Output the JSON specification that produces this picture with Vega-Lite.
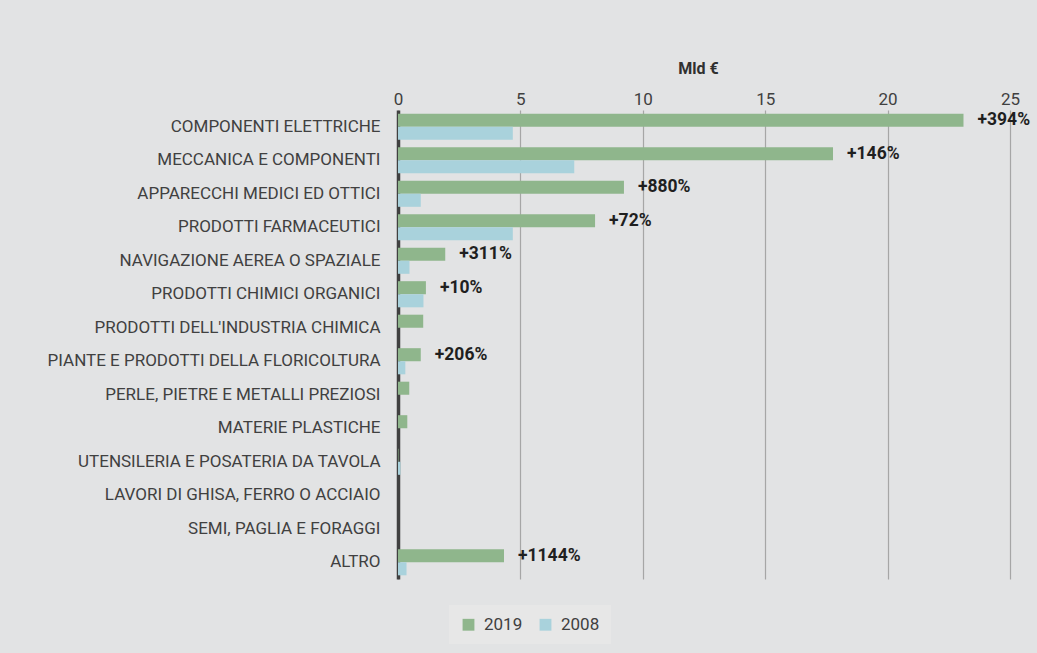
{
  "$schema": "https://vega.github.io/schema/vega-lite/v6.json",
  "width": 612,
  "height": 469,
  "autosize": {"type": "none"},
  "padding": {"left": 398, "top": 110, "right": 27, "bottom": 74},
  "background": "#e2e3e4",
  "config": {
    "view": {"stroke": null},
    "font": "Roboto",
    "axis": {"labelFont": "Roboto", "titleFont": "Roboto"}
  },
  "data": {
    "values": [
      {"cat": "COMPONENTI ELETTRICHE", "year": "2019", "value": 23.1, "label": "+394%"},
      {"cat": "COMPONENTI ELETTRICHE", "year": "2008", "value": 4.69, "label": ""},
      {"cat": "MECCANICA E COMPONENTI", "year": "2019", "value": 17.77, "label": "+146%"},
      {"cat": "MECCANICA E COMPONENTI", "year": "2008", "value": 7.2, "label": ""},
      {"cat": "APPARECCHI MEDICI ED OTTICI", "year": "2019", "value": 9.23, "label": "+880%"},
      {"cat": "APPARECCHI MEDICI ED OTTICI", "year": "2008", "value": 0.93, "label": ""},
      {"cat": "PRODOTTI FARMACEUTICI", "year": "2019", "value": 8.05, "label": "+72%"},
      {"cat": "PRODOTTI FARMACEUTICI", "year": "2008", "value": 4.69, "label": ""},
      {"cat": "NAVIGAZIONE AEREA O SPAZIALE", "year": "2019", "value": 1.93, "label": "+311%"},
      {"cat": "NAVIGAZIONE AEREA O SPAZIALE", "year": "2008", "value": 0.47, "label": ""},
      {"cat": "PRODOTTI CHIMICI ORGANICI", "year": "2019", "value": 1.14, "label": "+10%"},
      {"cat": "PRODOTTI CHIMICI ORGANICI", "year": "2008", "value": 1.04, "label": ""},
      {"cat": "PRODOTTI DELL'INDUSTRIA CHIMICA", "year": "2019", "value": 1.03, "label": ""},
      {"cat": "PRODOTTI DELL'INDUSTRIA CHIMICA", "year": "2008", "value": 0, "label": ""},
      {"cat": "PIANTE E PRODOTTI DELLA FLORICOLTURA", "year": "2019", "value": 0.93, "label": "+206%"},
      {"cat": "PIANTE E PRODOTTI DELLA FLORICOLTURA", "year": "2008", "value": 0.3, "label": ""},
      {"cat": "PERLE, PIETRE E METALLI PREZIOSI", "year": "2019", "value": 0.46, "label": ""},
      {"cat": "PERLE, PIETRE E METALLI PREZIOSI", "year": "2008", "value": 0, "label": ""},
      {"cat": "MATERIE PLASTICHE\u00a0", "year": "2019", "value": 0.38, "label": ""},
      {"cat": "MATERIE PLASTICHE\u00a0", "year": "2008", "value": 0, "label": ""},
      {"cat": "UTENSILERIA E POSATERIA DA TAVOLA", "year": "2019", "value": 0.02, "label": ""},
      {"cat": "UTENSILERIA E POSATERIA DA TAVOLA", "year": "2008", "value": 0.1, "label": ""},
      {"cat": "LAVORI DI GHISA, FERRO O ACCIAIO", "year": "2019", "value": 0, "label": ""},
      {"cat": "LAVORI DI GHISA, FERRO O ACCIAIO", "year": "2008", "value": 0, "label": ""},
      {"cat": "SEMI, PAGLIA E FORAGGI", "year": "2019", "value": 0, "label": ""},
      {"cat": "SEMI, PAGLIA E FORAGGI", "year": "2008", "value": 0, "label": ""},
      {"cat": "ALTRO", "year": "2019", "value": 4.33, "label": "+1144%"},
      {"cat": "ALTRO", "year": "2008", "value": 0.348, "label": ""}
    ]
  },
  "encoding": {
    "y": {
      "field": "cat",
      "type": "nominal",
      "sort": null,
      "scale": {"paddingInner": 0.22, "paddingOuter": 0.11},
      "axis": {
        "title": null,
        "ticks": false,
        "domain": true,
        "domainColor": "#404040",
        "domainWidth": 3.5,
        "labelFontSize": 17,
        "labelColor": "#404040",
        "labelPadding": 18,
        "labelLimit": 400
      }
    },
    "yOffset": {
      "field": "year",
      "type": "nominal",
      "sort": ["2019", "2008"],
      "scale": {"paddingInner": 0, "paddingOuter": 0}
    },
    "x": {
      "field": "value",
      "type": "quantitative",
      "scale": {"domain": [0, 25], "nice": false},
      "axis": {
        "orient": "top",
        "title": "Mld €",
        "titleFontSize": 16,
        "titleFontWeight": "bold",
        "titleColor": "#303030",
        "titlePadding": 14,
        "titleX": 300,
        "values": [0, 5, 10, 15, 20, 25],
        "ticks": false,
        "domain": false,
        "labelFlush": false,
        "labelFontSize": 17,
        "labelColor": "#404040",
        "labelPadding": 2,
        "grid": true,
        "gridColor": "#a6a6a6",
        "gridWidth": 1.2
      }
    }
  },
  "layer": [
    {
      "mark": {"type": "bar"},
      "encoding": {
        "color": {
          "field": "year",
          "type": "nominal",
          "scale": {"domain": ["2019", "2008"], "range": ["#8fb68c", "#a9d2dc"]},
          "legend": {
            "title": null,
            "orient": "none",
            "direction": "horizontal",
            "legendX": 51,
            "legendY": 495,
            "fillColor": "#e7e7e7",
            "padding": 11,
            "symbolType": "square",
            "symbolSize": 140,
            "symbolStrokeWidth": 0,
            "labelFontSize": 17,
            "labelColor": "#404040",
            "labelOffset": 7,
            "columnPadding": 14
          }
        }
      }
    },
    {
      "transform": [{"filter": "datum.label != ''"}],
      "mark": {
        "type": "text",
        "align": "left",
        "baseline": "middle",
        "dx": 14,
        "fontSize": 17.5,
        "fontWeight": "bold",
        "color": "#1f1f1f"
      },
      "encoding": {"text": {"field": "label"}}
    }
  ]
}
